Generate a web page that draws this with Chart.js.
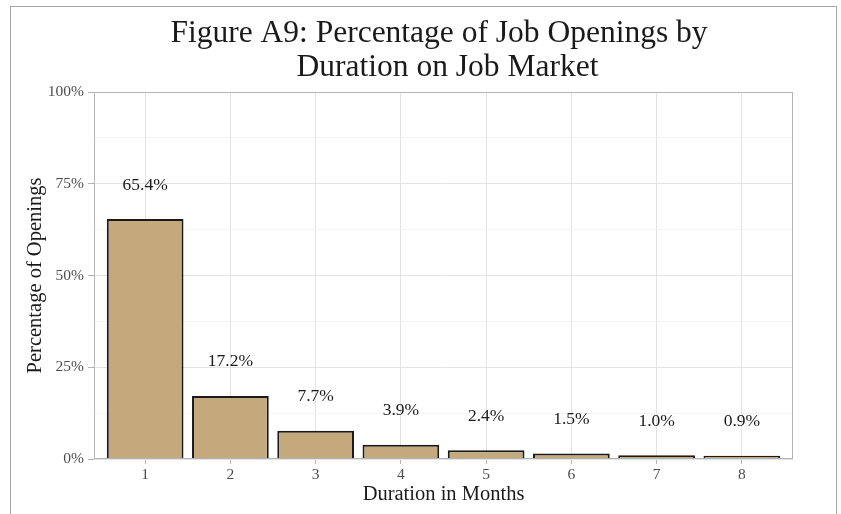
<!DOCTYPE html>
<html>
<head>
<meta charset="utf-8">
<script src="https://cdn.jsdelivr.net/npm/chart.js@4/dist/chart.umd.min.js"></script>
<style>
  body { margin: 0; background: #fff; }
  #wrap { position: relative; width: 841px; height: 514px; overflow: hidden; }
  #frame { position: absolute; left: 10px; top: 6px; width: 827px; height: 520px; border: 1px solid #a6a6a6; box-sizing: border-box; }
  canvas { position: absolute; left: 0; top: 0; }
</style>
</head>
<body>
<div id="wrap">
  <div id="frame"></div>
  <canvas id="myChart" width="841" height="514"></canvas>
</div>
<script>
const months = [1, 2, 3, 4, 5, 6, 7, 8];
const share = [65.4, 17.2, 7.7, 3.9, 2.4, 1.5, 1.0, 0.9];
const y_ticks = [0, 25, 50, 75, 100];
const title_lines = ["Figure A9: Percentage of Job Openings by", "Duration on Job Market"];

const serif = "'Liberation Serif', 'Times New Roman', serif";

// title, panel border and value labels
const extras = {
  id: "extras",
  afterDatasetsDraw(chart) {
    const ctx = chart.ctx;
    const area = chart.chartArea;
    const xs = chart.scales.x;
    const ys = chart.scales.y;
    ctx.save();
    ctx.strokeStyle = "#b3b3b3";
    ctx.lineWidth = 1;
    ctx.strokeRect(area.left + 0.5, area.top + 0.5, area.right - area.left - 1, area.bottom - area.top - 1);

    ctx.fillStyle = "#1a1a1a";
    ctx.font = "17.5px " + serif;
    ctx.textAlign = "center";
    ctx.textBaseline = "middle";
    for (let i = 0; i < months.length; i++) {
      let px = xs.getPixelForValue(months[i]);
      let py = ys.getPixelForValue(share[i]) - 34;
      ctx.fillText(share[i].toFixed(1) + "%", px, py);
    }

    ctx.font = "31.5px " + serif;
    ctx.textBaseline = "alphabetic";
    let cx = (area.left + area.right) / 2;
    ctx.fillText(title_lines[0], cx - 4.5, 42);
    ctx.fillText(title_lines[1], cx + 4, 76);
    ctx.restore();
  }
};

const ctx = document.getElementById("myChart");
new Chart(ctx, {
  type: "bar",
  data: {
    datasets: [
      {
        data: months.map((m, i) => ({ x: m, y: share[i] })),
        backgroundColor: "#c4a97c",
        borderColor: "#1a1a1a",
        borderWidth: 2,
        categoryPercentage: 0.9,
        barPercentage: 1,
      },
    ],
  },
  options: {
    responsive: false,
    animation: false,
    layout: { padding: { left: 0, right: 48, top: 92, bottom: 0 } },
    plugins: {
      legend: { display: false },
      tooltip: { enabled: false },
    },
    scales: {
      x: {
        type: "linear",
        min: 0.4,
        max: 8.6,
        offset: false,
        afterBuildTicks: (axis) => { axis.ticks = months.map((v) => ({ value: v })); },
        afterFit: (axis) => { axis.height = 55; },
        ticks: {
          color: "#4d4d4d",
          font: { family: serif, size: 15.5 },
          padding: 2,
          callback: (v) => String(v),
        },
        grid: { offset: false, color: "#e3e3e3", tickColor: "#b3b3b3", tickLength: 5, lineWidth: 1 },
        border: { display: false },
        title: {
          display: true,
          text: "Duration in Months",
          color: "#1a1a1a",
          font: { family: serif, size: 20.5 },
          padding: { top: 0, bottom: 7 },
        },
      },
      y: {
        min: 0,
        max: 100,
        afterBuildTicks: (axis) => {
          let t = [];
          for (let v = 0; v <= 100; v += 12.5) t.push({ value: v });
          axis.ticks = t;
        },
        afterFit: (axis) => { axis.width = 94; },
        ticks: {
          color: "#4d4d4d",
          font: { family: serif, size: 15.5 },
          padding: 4,
          callback: (v) => (y_ticks.includes(v) ? v + "%" : ""),
        },
        grid: {
          color: (c) => (y_ticks.includes(c.tick.value) ? "#e3e3e3" : "#efefef"),
          lineWidth: (c) => (y_ticks.includes(c.tick.value) ? 1 : 0.7),
          tickColor: (c) => (y_ticks.includes(c.tick.value) ? "#b3b3b3" : "rgba(0,0,0,0)"),
          tickLength: 6,
        },
        border: { display: false },
        title: {
          display: true,
          text: "Percentage of Openings",
          color: "#1a1a1a",
          font: { family: serif, size: 20.5 },
          padding: { top: 23, bottom: 0 },
        },
      },
    },
  },
  plugins: [extras],
});
</script>
</body>
</html>
